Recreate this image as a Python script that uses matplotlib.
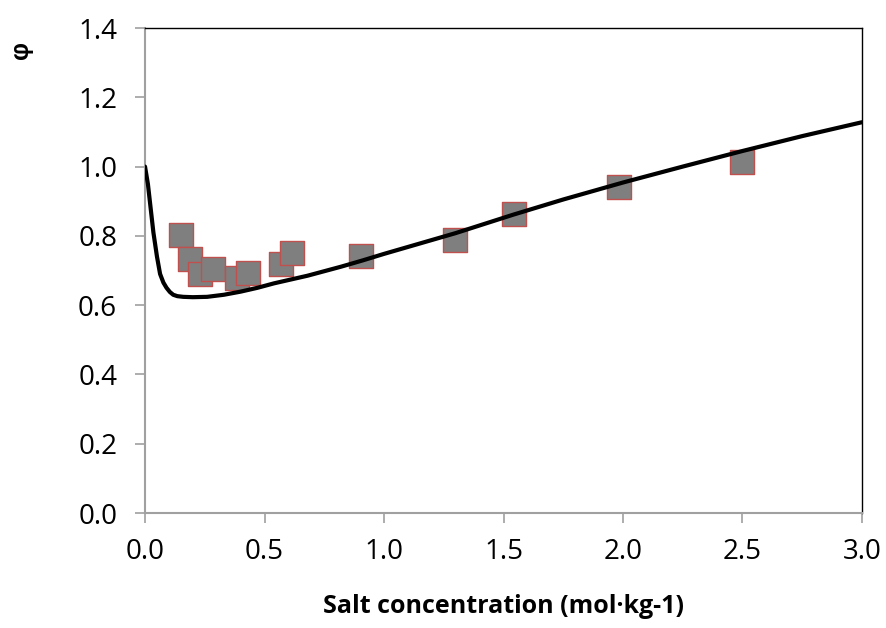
import matplotlib
matplotlib.use("Agg")
import matplotlib.pyplot as plt

# measured points (salt concentration, osmotic coefficient)
exp_x = [0.149, 0.188, 0.230, 0.283, 0.383, 0.432, 0.570, 0.615, 0.902, 1.299, 1.543, 1.983, 2.497]
exp_y = [0.803, 0.732, 0.689, 0.703, 0.677, 0.694, 0.719, 0.750, 0.743, 0.788, 0.862, 0.940, 1.014]

# model curve
fit_x = [0.0, 0.012, 0.035, 0.05, 0.063, 0.077, 0.09, 0.104, 0.118, 0.135, 0.16, 0.2, 0.26,
         0.33, 0.4, 0.47, 0.54, 0.68, 0.82, 0.91, 1.0, 1.15, 1.3, 1.54, 1.75, 2.0, 2.25, 2.5,
         2.75, 3.0]
fit_y = [1.0, 0.95, 0.81, 0.74, 0.69, 0.665, 0.65, 0.638, 0.63, 0.626, 0.624, 0.623, 0.624,
         0.63, 0.639, 0.65, 0.663, 0.685, 0.711, 0.729, 0.748, 0.778, 0.808, 0.861, 0.905,
         0.954, 1.0, 1.045, 1.088, 1.128]

x_ticks = [0.0, 0.5, 1.0, 1.5, 2.0, 2.5, 3.0]
y_ticks = [0.0, 0.2, 0.4, 0.6, 0.8, 1.0, 1.2, 1.4]

plt.rcParams['font.family'] = ['Open Sans', 'DejaVu Sans']

fig = plt.figure(figsize=(8.87, 6.28), dpi=100)
ax = fig.add_axes([0.1635, 0.1831, 0.8083, 0.7723])

ax.scatter(exp_x, exp_y, marker='s', s=300, facecolor='#7f7f7f',
           edgecolor='#c0504d', linewidth=1.0, zorder=2)
ax.plot(fit_x, fit_y, color='black', linewidth=3.0, zorder=3,
        solid_capstyle='round', solid_joinstyle='round')

ax.set_xlim(0, 3.0)
ax.set_ylim(0, 1.4)
ax.set_xticks(x_ticks)
ax.set_yticks(y_ticks)
ax.set_xticklabels(['%.1f' % v for v in x_ticks])
ax.set_yticklabels(['%.1f' % v for v in y_ticks])
ax.tick_params(axis='both', direction='out', length=7, width=1.2, color='#a0a0a0',
               labelsize=20, colors='black')
ax.tick_params(axis='x', pad=11)
ax.tick_params(axis='y', pad=13)
for ax_side in ['left', 'bottom']:
    ax.spines[ax_side].set_color('#a0a0a0')
    ax.spines[ax_side].set_linewidth(1.5)
for ax_side in ['top', 'right']:
    ax.spines[ax_side].set_color('black')
    ax.spines[ax_side].set_linewidth(1.0)

ax.set_xlabel('Salt concentration (mol·kg-1)', fontsize=18, fontweight='bold', labelpad=20)
fig.text(0.024, 0.92, 'φ', rotation=90, fontsize=18, fontweight='bold',
         family=['Liberation Sans', 'DejaVu Sans'], ha='center', va='center')

fig.savefig('out.png', dpi=100)
